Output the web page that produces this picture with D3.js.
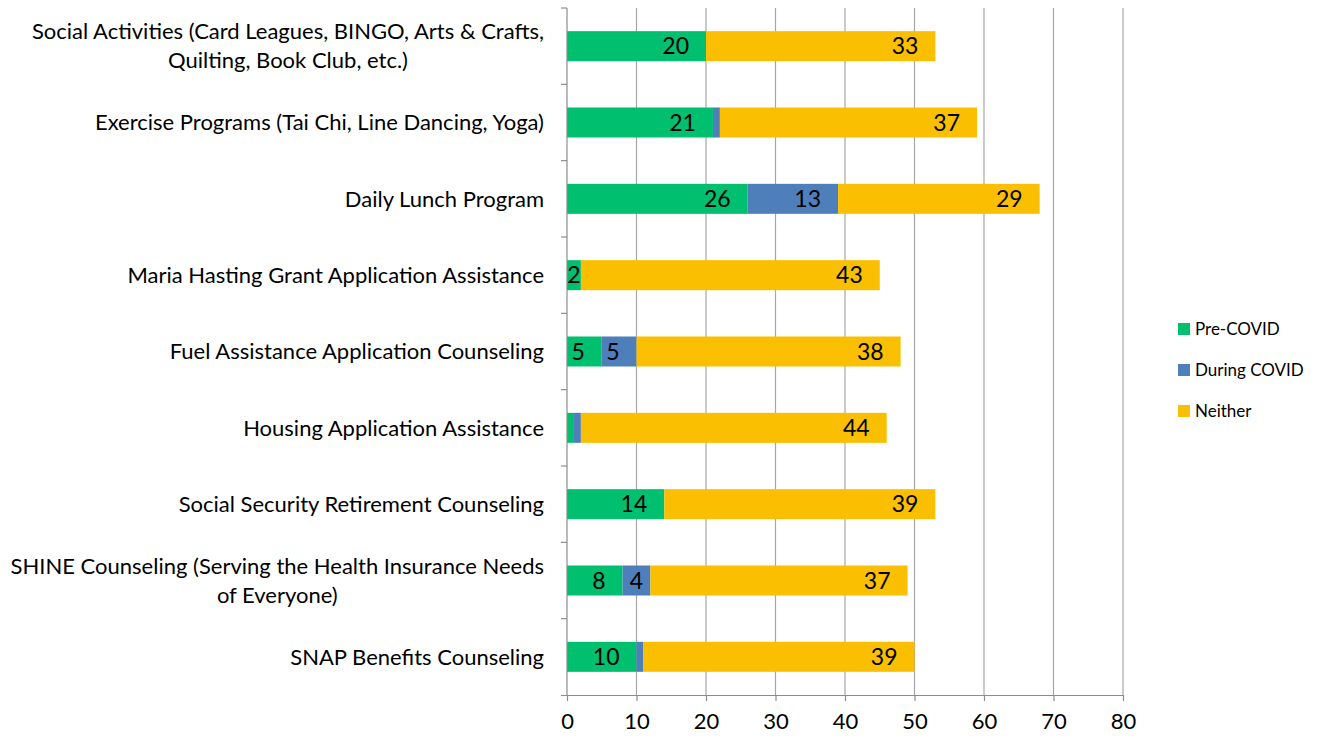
<!DOCTYPE html>
<html>
<head>
<meta charset="utf-8">
<script src="https://cdn.jsdelivr.net/npm/d3@7"></script>
<style>
  html, body { margin: 0; padding: 0; background: #fff; }
  svg text { font-family: Lato, "Open Sans", sans-serif; fill: #000; }
</style>
</head>
<body>
<svg id="chart" width="1323" height="746"></svg>
<script>
// Services and how respondents used them
const categories = [
  ["Social Activities (Card Leagues, BINGO, Arts & Crafts,", "Quilting, Book Club, etc.)"],
  ["Exercise Programs (Tai Chi, Line Dancing, Yoga)"],
  ["Daily Lunch Program"],
  ["Maria Hasting Grant Application Assistance"],
  ["Fuel Assistance Application Counseling"],
  ["Housing Application Assistance"],
  ["Social Security Retirement Counseling"],
  ["SHINE Counseling (Serving the Health Insurance Needs", "of Everyone)"],
  ["SNAP Benefits Counseling"]
];
const seriesNames = ["Pre-COVID", "During COVID", "Neither"];
const preCovid    = [20, 21, 26, 2, 5, 1, 14, 8, 10];
const duringCovid = [0, 1, 13, 0, 5, 1, 0, 4, 1];
const neither     = [33, 37, 29, 43, 38, 44, 39, 37, 39];
// values shown as labels (small 1-count segments carry no label)
const showLabel = [
  [true, false, true], [true, false, true], [true, true, true],
  [true, false, true], [true, true, true], [false, false, true],
  [true, false, true], [true, true, true], [true, false, true]
];
const xTicks = [0, 10, 20, 30, 40, 50, 60, 70, 80];
const colors = ["#00BF6F", "#4F7FBB", "#F9BF00"];

const svg = d3.select("#chart");
const plotLeft = 567, plotRight = 1123, plotTop = 8, plotBottom = 695;

const x = d3.scaleLinear().domain([0, 80]).range([plotLeft, plotRight]);
const keys = categories.map((c, i) => i);
const y = d3.scaleBand().domain(keys).range([plotTop, plotBottom])
  .paddingInner(0.607).paddingOuter(0.3035);

// vertical gridlines
svg.append("g").selectAll("line").data(xTicks.slice(1)).join("line")
  .attr("x1", d => x(d)).attr("x2", d => x(d))
  .attr("y1", plotTop).attr("y2", plotBottom)
  .attr("stroke", "#a6a6a6").attr("stroke-width", 1.2);

// stacked data
const rows = keys.map(i => ({ i, v: [preCovid[i], duringCovid[i], neither[i]] }));
const stack = d3.stack().keys([0, 1, 2]).value((d, k) => d.v[k]);
const layers = stack(rows);

const gBars = svg.append("g");
layers.forEach((layer, k) => {
  gBars.append("g").selectAll("rect").data(layer).join("rect")
    .attr("x", d => x(d[0]))
    .attr("width", d => x(d[1]) - x(d[0]))
    .attr("y", d => y(d.data.i))
    .attr("height", y.bandwidth())
    .attr("fill", colors[k]);
});

// axes
const xAxis = d3.axisBottom(x).tickValues(xTicks).tickSize(6).tickPadding(12);
const gx = svg.append("g").attr("transform", `translate(0,${plotBottom})`).call(xAxis);
gx.select(".domain").attr("stroke", "#8c8c8c").attr("stroke-width", 1.2)
  .attr("d", `M${plotLeft - 6},0.5H${plotRight}`);
gx.selectAll(".tick line").attr("stroke", "#8c8c8c").attr("stroke-width", 1.2);
gx.selectAll(".tick text").style("font-family", "Lato, sans-serif")
  .style("font-size", "22px").attr("fill", "#000");

// y axis line with ticks on band boundaries
const gy = svg.append("g");
gy.append("line").attr("x1", plotLeft).attr("x2", plotLeft).attr("y1", plotTop).attr("y2", plotBottom)
  .attr("stroke", "#8c8c8c").attr("stroke-width", 1.2);
const bounds = d3.range(categories.length).map(i => plotTop + i * y.step());
gy.selectAll("line.t").data(bounds).join("line").attr("class", "t")
  .attr("x1", plotLeft - 6).attr("x2", plotLeft).attr("y1", d => d).attr("y2", d => d)
  .attr("stroke", "#8c8c8c").attr("stroke-width", 1.2);

// category labels
const labelRight = 544, lineH = 29;
categories.forEach((lines, i) => {
  const cy = y(i) + y.bandwidth() / 2;
  const t = svg.append("text").style("font-size", "22px");
  const n = lines.length;
  lines.forEach((ln, j) => {
    t.append("tspan").text(ln)
      .attr("y", cy + (j - (n - 1) / 2) * lineH)
      .attr("dy", "0.35em");
  });
  if (n === 1) {
    t.attr("text-anchor", "end").selectAll("tspan").attr("x", labelRight);
  } else {
    const w = d3.max(t.selectAll("tspan").nodes(), nd => nd.getComputedTextLength());
    t.attr("text-anchor", "middle").selectAll("tspan").attr("x", labelRight - w / 2);
  }
});

// data labels
const gLab = svg.append("g");
layers.forEach((layer, k) => {
  layer.forEach(d => {
    const i = d.data.i;
    if (!showLabel[i][k]) return;
    const x0 = x(d[0]), x1 = x(d[1]);
    const t = gLab.append("text").text(d.data.v[k])
      .style("font-size", "23px")
      .attr("y", y(i) + y.bandwidth() / 2).attr("dy", "0.36em");
    const w = t.node().getComputedTextLength();
    if (x1 - 17 - w >= x0 + 4) {
      t.attr("x", x1 - 17).attr("text-anchor", "end");
    } else {
      t.attr("x", (x0 + x1) / 2).attr("text-anchor", "middle");
    }
  });
});

// legend
const legend = svg.append("g");
seriesNames.forEach((name, k) => {
  const ly = 329 + k * 41;
  legend.append("rect").attr("x", 1178).attr("y", ly - 6).attr("width", 12).attr("height", 12)
    .attr("fill", colors[k]);
  legend.append("text").attr("x", 1195).attr("y", ly).attr("dy", "0.35em")
    .style("font-size", "17px").text(name);
});
</script>
</body>
</html>
